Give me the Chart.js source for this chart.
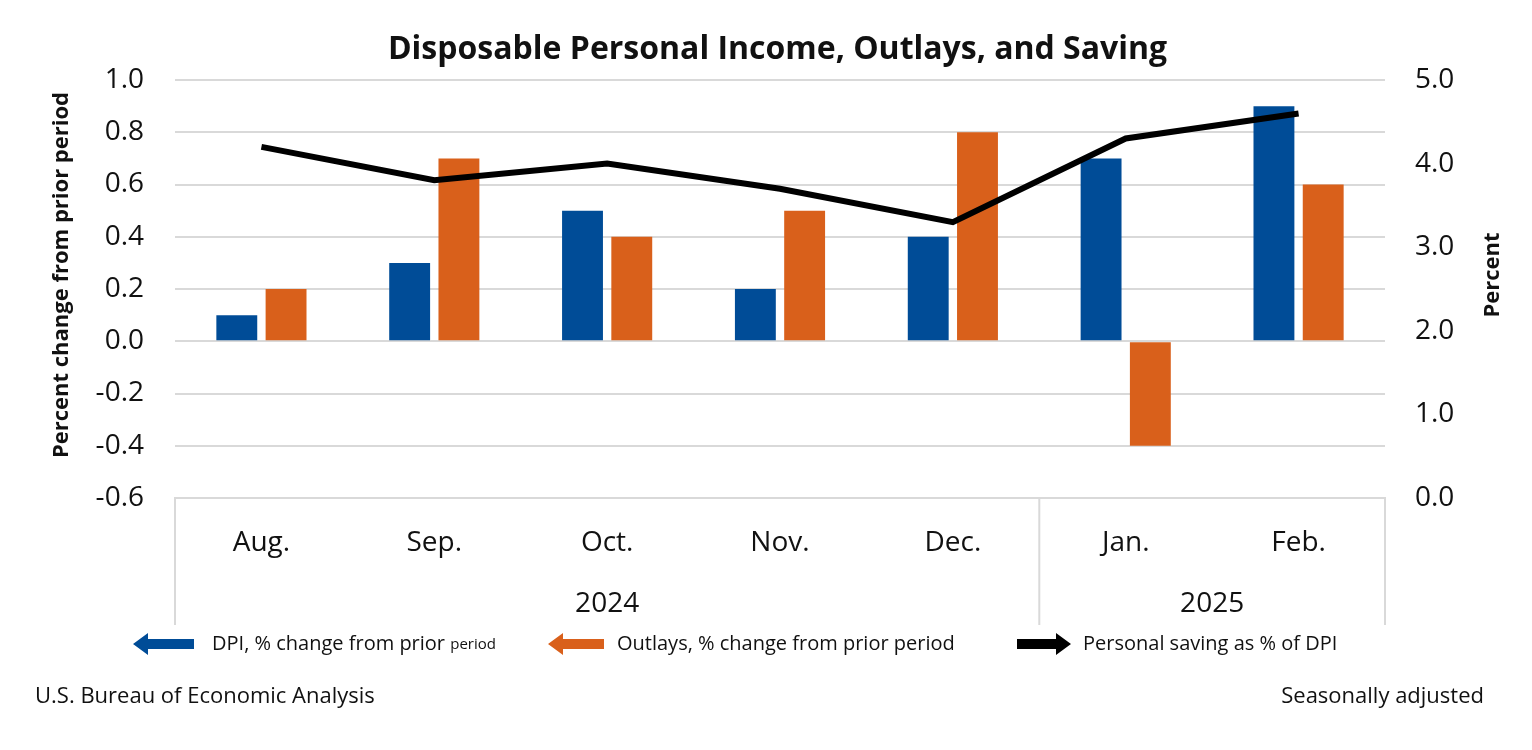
<!DOCTYPE html>
<html>
<head>
<meta charset="utf-8">
<script src="https://cdn.jsdelivr.net/npm/chart.js@4.4.1/dist/chart.umd.min.js"></script>
<style>
  html, body { margin: 0; padding: 0; background: #fff; }
  #wrap { width: 1532px; height: 750px; }
</style>
</head>
<body>
<div id="wrap"><canvas id="dpiChart" width="1532" height="750"></canvas></div>
<script>
// ===== 数据 =====
const months = ['Aug.', 'Sep.', 'Oct.', 'Nov.', 'Dec.', 'Jan.', 'Feb.'];
const monthYears = ['2024', '2024', '2024', '2024', '2024', '2025', '2025'];
const dpiChange = [0.1, 0.3, 0.5, 0.2, 0.4, 0.7, 0.9];
const outlaysChange = [0.2, 0.7, 0.4, 0.5, 0.8, -0.4, 0.6];
const savingRate = [4.2, 3.8, 4.0, 3.7, 3.3, 4.3, 4.6];

const leftTicks = { min: -0.6, max: 1.0, step: 0.2 };
const rightTicks = { min: 0, max: 5, step: 1 };

const BLUE = '#004c97';
const ORANGE = '#d9601b';
const FONT = "'Open Sans', 'Noto Sans', sans-serif";
const TXT = '#111';

function fmt(v) {
    if (Math.abs(v) < 1e-9) v = 0;
    return v.toFixed(1);
}

// 箭头图例
function drawArrow(ctx, x1, x2, y, color, dir) {
    const shaft = 10, head = 22, headLen = 15;
    ctx.save();
    ctx.fillStyle = color;
    ctx.beginPath();
    if (dir < 0) {
        ctx.moveTo(x1, y);
        ctx.lineTo(x1 + headLen, y - head / 2);
        ctx.lineTo(x1 + headLen, y - shaft / 2);
        ctx.lineTo(x2, y - shaft / 2);
        ctx.lineTo(x2, y + shaft / 2);
        ctx.lineTo(x1 + headLen, y + shaft / 2);
        ctx.lineTo(x1 + headLen, y + head / 2);
    } else {
        ctx.moveTo(x2, y);
        ctx.lineTo(x2 - headLen, y - head / 2);
        ctx.lineTo(x2 - headLen, y - shaft / 2);
        ctx.lineTo(x1, y - shaft / 2);
        ctx.lineTo(x1, y + shaft / 2);
        ctx.lineTo(x2 - headLen, y + shaft / 2);
        ctx.lineTo(x2 - headLen, y + head / 2);
    }
    ctx.closePath();
    ctx.fill();
    ctx.restore();
}

function vText(ctx, text, x, y) {
    ctx.save();
    ctx.translate(x, y);
    ctx.rotate(-Math.PI / 2);
    ctx.fillText(text, 0, 0);
    ctx.restore();
}

// 年份分组 + 轴标题 + 图例 + 页脚
const extrasPlugin = {
    id: 'extras',
    afterDraw(chart) {
        const ctx = chart.ctx;
        const xs = chart.scales.x;
        const area = chart.chartArea;
        const sepBottom = 625;

        const seps = [area.left];
        for (let i = 1; i < months.length; i++) {
            if (monthYears[i] !== monthYears[i - 1]) {
                seps.push((xs.getPixelForValue(i - 1) + xs.getPixelForValue(i)) / 2);
            }
        }
        seps.push(area.right);
        ctx.save();
        ctx.strokeStyle = '#d9d9d9';
        ctx.lineWidth = 2;
        seps.forEach(x => {
            ctx.beginPath();
            ctx.moveTo(x, area.bottom);
            ctx.lineTo(x, sepBottom);
            ctx.stroke();
        });

        ctx.fillStyle = TXT;
        ctx.font = `28px ${FONT}`;
        ctx.textAlign = 'center';
        ctx.textBaseline = 'middle';
        for (let s = 0; s < seps.length - 1; s++) {
            const mid = (seps[s] + seps[s + 1]) / 2;
            const idx = months.findIndex((m, i) => xs.getPixelForValue(i) > seps[s]);
            ctx.fillText(monthYears[idx], mid, 604);
        }

        // 轴标题
        ctx.font = `bold 22px ${FONT}`;
        vText(ctx, 'Percent change from prior period', 62, 275);
        vText(ctx, 'Percent', 1493, 275);

        // 图例
        const ly = 644;
        ctx.textAlign = 'left';
        drawArrow(ctx, 133, 194, ly, BLUE, -1);
        ctx.font = `20px ${FONT}`;
        ctx.fillText('DPI, % change from prior ', 212, ly);
        const w = ctx.measureText('DPI, % change from prior ').width;
        ctx.font = `15px ${FONT}`;
        ctx.fillText('period', 212 + w, ly + 1);

        drawArrow(ctx, 548, 604, ly, ORANGE, -1);
        ctx.font = `20px ${FONT}`;
        ctx.fillText('Outlays, % change from prior period', 617, ly);

        drawArrow(ctx, 1017, 1071, ly, '#000', 1);
        ctx.fillText('Personal saving as % of DPI', 1083, ly);

        // 页脚
        ctx.font = `22px ${FONT}`;
        ctx.fillText('U.S. Bureau of Economic Analysis', 35, 697);
        ctx.textAlign = 'right';
        ctx.fillText('Seasonally adjusted', 1484, 697);
        ctx.restore();
    }
};

const ctx = document.getElementById('dpiChart').getContext('2d');
const dpiChart = new Chart(ctx, {
    type: 'bar',
    data: {
        labels: months,
        datasets: [
            {
                label: 'DPI, % change from prior period',
                data: dpiChange,
                backgroundColor: BLUE,
                yAxisID: 'y',
                order: 1,
                categoryPercentage: 0.57,
                barPercentage: 0.83
            },
            {
                label: 'Outlays, % change from prior period',
                data: outlaysChange,
                backgroundColor: ORANGE,
                yAxisID: 'y',
                order: 1,
                categoryPercentage: 0.57,
                barPercentage: 0.83
            },
            {
                type: 'line',
                label: 'Personal saving as % of DPI',
                data: savingRate,
                borderColor: '#000',
                borderWidth: 6,
                pointRadius: 0,
                tension: 0,
                fill: false,
                yAxisID: 'y2',
                order: 0
            }
        ]
    },
    options: {
        responsive: false,
        animation: false,
        devicePixelRatio: 1,
        layout: { padding: { left: 47, right: 24, top: 0, bottom: 122 } },
        plugins: {
            legend: { display: false },
            tooltip: { enabled: false },
            title: {
                display: true,
                text: 'Disposable Personal Income, Outlays, and Saving',
                color: TXT,
                font: { family: FONT, size: 32, weight: 'bold', lineHeight: 1.2 },
                padding: { top: 31, bottom: 10.6 }
            }
        },
        scales: {
            x: {
                grid: { display: false, drawTicks: false },
                border: { display: true, color: '#d9d9d9', width: 2 },
                ticks: { color: TXT, font: { family: FONT, size: 28 }, padding: 28 },
                afterFit: s => { s.height = 130; }
            },
            y: {
                position: 'left',
                min: leftTicks.min,
                max: leftTicks.max,
                grid: { color: '#d9d9d9', lineWidth: 2, drawTicks: false },
                border: { display: false },
                ticks: {
                    stepSize: leftTicks.step,
                    color: TXT,
                    padding: 31,
                    font: { family: FONT, size: 28 },
                    callback: v => fmt(v)
                },
                afterFit: s => { s.width = 175 - 47; }
            },
            y2: {
                position: 'right',
                min: rightTicks.min,
                max: rightTicks.max,
                grid: { display: false, drawTicks: false },
                border: { display: false },
                ticks: {
                    stepSize: rightTicks.step,
                    color: TXT,
                    padding: 30,
                    font: { family: FONT, size: 28 },
                    callback: v => fmt(v)
                },
                afterFit: s => { s.width = 1508 - 1385; }
            }
        }
    },
    plugins: [extrasPlugin]
});
</script>
</body>
</html>
